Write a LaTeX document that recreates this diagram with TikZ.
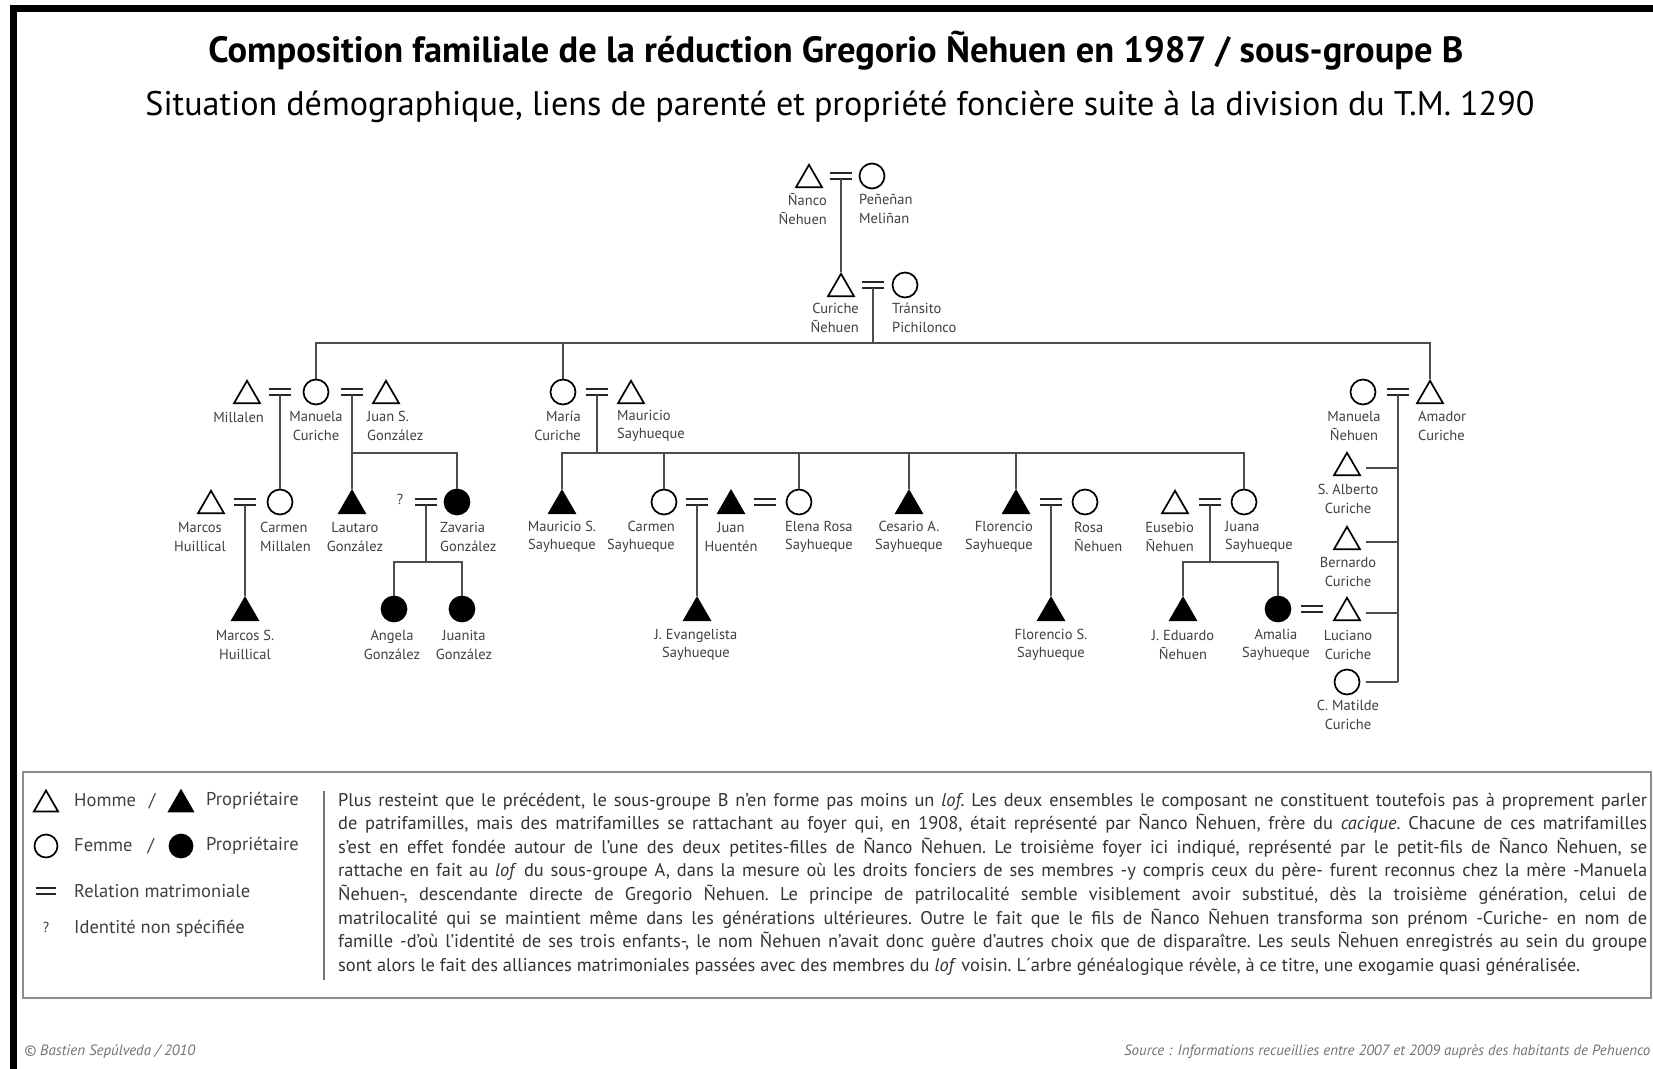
\documentclass[tikz,border=0pt]{standalone}
\usepackage{fontspec}
\usepackage{graphicx}
\setmainfont{PT Sans}
\usetikzlibrary{shapes.geometric}
\begin{document}
\begin{tikzpicture}[x=1pt,y=-1pt,
  man/.style={regular polygon, regular polygon sides=3, draw=black, line width=1.7pt, minimum size=30pt, inner sep=0pt, yshift=-3.75pt},
  woman/.style={circle, draw=black, line width=1.7pt, minimum size=25pt, inner sep=0pt},
  own/.style={fill=black},
  eqline/.style={draw=black!85, line width=2.4pt},
  eqs/.style={minimum width=22pt, minimum height=6pt, inner sep=0pt,
    append after command={(\tikzlastnode.north west) edge[eqline] (\tikzlastnode.north east)
      (\tikzlastnode.south west) edge[eqline] (\tikzlastnode.south east)}},
  conn/.style={draw=black!70, line width=1.6pt},
  lbl/.style={font=\fontsize{14.5}{18.5}\selectfont, text=black!75, inner sep=0pt},
  leg/.style={font=\fontsize{18.5}{22}\selectfont, text=black!75, inner sep=0pt, anchor=west},
  foot/.style={font=\fontsize{11}{13}\selectfont\itshape, text=black!55, inner sep=0pt}
]
\useasboundingbox (0,0) rectangle (1653,1068);
\fill[white] (0,0) rectangle (1653,1068);
\draw[line width=7pt] (13.5,1080) -- (13.5,8.5) -- (1670,8.5);

% titles
\node (title) at (836,51) {\resizebox{1255pt}{!}{\fontsize{30}{36}\selectfont\bfseries Composition familiale de la réduction Gregorio Ñehuen en 1987 / sous-groupe B}};
\node (subtitle) at (840,107) {\resizebox{1389pt}{!}{\fontsize{30}{36}\selectfont Situation démographique, liens de parenté et propriété foncière suite à la division du T.M. 1290}};

% bars
\coordinate (bar1) at (0,343);
\coordinate (bar2) at (0,453);
\coordinate (bar4) at (0,562);

% generation A
\node[man] (nanco) at (809,176) {};
\node[eqs] (eqA) at (841,176) {};
\node[woman] (penenan) at (872,176) {};
\node[lbl, align=right, anchor=east] (lnanco) at (827,209) {Ñanco\\Ñehuen};
\node[lbl, align=left, anchor=west] (lpenenan) at (859,209) {Peñeñan\\Meliñan};

% generation B
\node[man] (curiche) at (841,285) {};
\node[eqs] (eqB) at (873,285) {};
\node[woman] (transito) at (905,285) {};
\node[lbl, align=right, anchor=east] (lcuriche) at (859,318) {Curiche\\Ñehuen};
\node[lbl, align=left, anchor=west] (ltransito) at (892,318) {Tránsito\\Pichilonco};

% generation 2
\node[man] (millalen) at (247,392) {};
\node[eqs] (eqC) at (280,392) {};
\node[woman] (manuelaC) at (316,392) {};
\node[eqs] (eqD) at (352,392) {};
\node[man] (juanS) at (386,392) {};
\node[woman] (maria) at (563,392) {};
\node[eqs] (eqE) at (597,392) {};
\node[man] (mauricio) at (631,392) {};
\node[woman] (manuelaN) at (1363,392) {};
\node[eqs] (eqF) at (1398,392) {};
\node[man] (amador) at (1430,392) {};

\node[lbl, anchor=east] (lmillalen) at (264,417) {Millalen};
\node[lbl, align=center] (lmanuelaC) at (316,426) {Manuela\\Curiche};
\node[lbl, align=left, anchor=west] (ljuanS) at (367,426) {Juan S.\\González};
\node[lbl, align=right, anchor=east] (lmaria) at (581,426) {María\\Curiche};
\node[lbl, align=left, anchor=west] (lmauricio) at (617,426) {Mauricio\\Sayhueque};
\node[lbl, align=center] (lmanuelaN) at (1354,426) {Manuela\\Ñehuen};
\node[lbl, align=left, anchor=west] (lamador) at (1418,426) {Amador\\Curiche};

% generation 3
\node[man] (marcosH) at (211,502) {};
\node[eqs] (eqG) at (245,502) {};
\node[woman] (carmenM) at (280,502) {};
\node[man, own] (lautaro) at (352,502) {};
\node[lbl] (unknown) at (400,499) {?};
\node[eqs] (eqH) at (426,502) {};
\node[woman, own] (zavaria) at (457,502) {};
\node[man, own] (mauricioS) at (562,502) {};
\node[woman] (carmenS) at (664,502) {};
\node[eqs] (eqI) at (697,502) {};
\node[man, own] (juanH) at (731,502) {};
\node[eqs] (eqJ) at (765,502) {};
\node[woman] (elena) at (799,502) {};
\node[man, own] (cesario) at (909,502) {};
\node[man, own] (florencio) at (1016,502) {};
\node[eqs] (eqK) at (1051,502) {};
\node[woman] (rosa) at (1085,502) {};
\node[man] (eusebio) at (1175,502) {};
\node[eqs] (eqL) at (1210,502) {};
\node[woman] (juana) at (1244,502) {};

\node[lbl, align=center] (lmarcosH) at (200,537) {Marcos\\Huillical};
\node[lbl, align=left, anchor=west] (lcarmenM) at (260,537) {Carmen\\Millalen};
\node[lbl, align=center] (llautaro) at (355,537) {Lautaro\\González};
\node[lbl, align=left, anchor=west] (lzavaria) at (440,537) {Zavaria\\González};
\node[lbl, align=center] (lmauricioS) at (562,537) {Mauricio S.\\Sayhueque};
\node[lbl, align=right, anchor=east] (lcarmenS) at (675,537) {Carmen\\Sayhueque};
\node[lbl, align=center] (ljuanH) at (731,537) {Juan\\Huentén};
\node[lbl, align=left, anchor=west] (lelena) at (785,537) {Elena Rosa\\Sayhueque};
\node[lbl, align=center] (lcesario) at (909,537) {Cesario A.\\Sayhueque};
\node[lbl, align=right, anchor=east] (lflorencio) at (1033,537) {Florencio\\Sayhueque};
\node[lbl, align=left, anchor=west] (lrosa) at (1074,537) {Rosa\\Ñehuen};
\node[lbl, align=right, anchor=east] (leusebio) at (1194,537) {Eusebio\\Ñehuen};
\node[lbl, align=left, anchor=west] (ljuana) at (1225,537) {Juana\\Sayhueque};

% right column
\node[man] (alberto) at (1347,464) {};
\node[man] (bernardo) at (1347,538) {};
\node[man] (luciano) at (1347,609) {};
\node[woman] (matilde) at (1347,682) {};
\node[lbl, align=center] (lalberto) at (1348,499) {S. Alberto\\Curiche};
\node[lbl, align=center] (lbernardo) at (1348,572) {Bernardo\\Curiche};
\node[lbl, align=center] (lluciano) at (1348,645) {Luciano\\Curiche};
\node[lbl, align=center] (lmatilde) at (1348,715) {C. Matilde\\Curiche};

% generation 4
\node[man, own] (marcosS) at (245,609) {};
\node[woman, own] (angela) at (394,609) {};
\node[woman, own] (juanita) at (462,609) {};
\node[man, own] (jEvang) at (697,609) {};
\node[man, own] (florencioS) at (1051,609) {};
\node[man, own] (jEduardo) at (1183,609) {};
\node[woman, own] (amalia) at (1278,609) {};
\node[eqs] (eqM) at (1312,609) {};

\node[lbl, align=center] (lmarcosS) at (245,645) {Marcos S.\\Huillical};
\node[lbl, align=center] (langela) at (392,645) {Angela\\González};
\node[lbl, align=center] (ljuanita) at (464,645) {Juanita\\González};
\node[lbl, align=center] (ljevang) at (696,645) {J. Evangelista\\Sayhueque};
\node[lbl, align=center] (lflorencioS) at (1051,645) {Florencio S.\\Sayhueque};
\node[lbl, align=center] (ljeduardo) at (1183,645) {J. Eduardo\\Ñehuen};
\node[lbl, align=center] (lamalia) at (1276,645) {Amalia\\Sayhueque};

% connectors
\draw[conn] (eqA.south) -- (eqA |- curiche.north);
\draw[conn] (eqB.south) -- (eqB |- bar1);
\draw[conn] (manuelaC.north) -- (manuelaC.north |- bar1) -- (amador.north |- bar1) -- (amador.north);
\draw[conn] (maria.north) -- (maria.north |- bar1);

\draw[conn] (eqC.south) -- (eqC |- carmenM.north);
\draw[conn] (eqD.south) -- (eqD |- lautaro.north);
\draw[conn] (eqD |- bar2) -- (zavaria.north |- bar2) -- (zavaria.north);
\draw[conn] (eqG.south) -- (eqG |- marcosS.north);
\draw[conn] (eqH.south) -- (eqH |- bar4);
\draw[conn] (angela.north) -- (angela.north |- bar4) -- (juanita.north |- bar4) -- (juanita.north);

\draw[conn] (eqE.south) -- (eqE |- bar2);
\draw[conn] (mauricioS.north) -- (mauricioS.north |- bar2) -- (juana.north |- bar2) -- (juana.north);
\draw[conn] (carmenS.north) -- (carmenS.north |- bar2);
\draw[conn] (elena.north) -- (elena.north |- bar2);
\draw[conn] (cesario.north) -- (cesario.north |- bar2);
\draw[conn] (florencio.north) -- (florencio.north |- bar2);

\draw[conn] (eqI.south) -- (eqI |- jEvang.north);
\draw[conn] (eqK.south) -- (eqK |- florencioS.north);
\draw[conn] (eqL.south) -- (eqL |- bar4);
\draw[conn] (jEduardo.north) -- (jEduardo.north |- bar4) -- (amalia.north |- bar4) -- (amalia.north);

\draw[conn] (eqF.south) -- (eqF |- matilde.east);
\draw[conn] ([xshift=9pt]alberto.east) -- (eqF |- alberto.east);
\draw[conn] ([xshift=9pt]bernardo.east) -- (eqF |- bernardo.east);
\draw[conn] ([xshift=9pt]luciano.east) -- (eqF |- luciano.east);
\draw[conn] ([xshift=6pt]matilde.east) -- (eqF |- matilde.east);

% legend
\draw[draw=black!45, line width=2.5pt] (23,772) rectangle (1651,998);
\coordinate (divtop) at (324,791);
\coordinate (divbot) at (324,980);
\draw[draw=black!55, line width=1.5pt] (divtop) -- (divbot);

\node[man, minimum size=28pt, yshift=0.25pt] (legman) at (46,801) {};
\node[leg] (leghomme) at (74,801) {Homme\hspace{13pt}/};
\node[man, own, minimum size=28pt, yshift=0.25pt] (legmanown) at (181,801) {};
\node[leg] (legprop1) at (206,801) {Propriétaire};
\node[woman, minimum size=23pt] (legwoman) at (46,846) {};
\node[leg] (legfemme) at (74,846) {Femme\hspace{15pt}/};
\node[woman, own, minimum size=23pt] (legwomanown) at (181,846) {};
\node[leg] (legprop2) at (206,846) {Propriétaire};
\node[eqs, minimum width=20pt] (legeq) at (46,891) {};
\node[leg] (legrel) at (74,891) {Relation matrimoniale};
\node[lbl] (legq) at (46,927) {?};
\node[leg] (legid) at (74,929) {Identité non spécifiée};

\node[inner sep=0pt, anchor=west, text=black!80] (para) at (338,884) {\parbox{1309pt}{\fontsize{18.4}{23.6}\selectfont\frenchspacing\tolerance=10000\hyphenpenalty=10000
Plus resteint que le précédent, le sous-groupe B n'en forme pas moins un \textit{lof}. Les deux ensembles le composant ne constituent toutefois pas à proprement parler\linebreak
de patrifamilles, mais des matrifamilles se rattachant au foyer qui, en 1908, était représenté par Ñanco Ñehuen, frère du \textit{cacique}. Chacune de ces matrifamilles\linebreak
s'est en effet fondée autour de l'une des deux petites-filles de Ñanco Ñehuen. Le troisième foyer ici indiqué, représenté par le petit-fils de Ñanco Ñehuen, se\linebreak
rattache en fait au \textit{lof} du sous-groupe A, dans la mesure où les droits fonciers de ses membres -y compris ceux du père- furent reconnus chez la mère -Manuela\linebreak
Ñehuen-, descendante directe de Gregorio Ñehuen. Le principe de patrilocalité semble visiblement avoir substitué, dès la troisième génération, celui de\linebreak
matrilocalité qui se maintient même dans les générations ultérieures. Outre le fait que le fils de Ñanco Ñehuen transforma son prénom -Curiche- en nom de\linebreak
famille -d'où l'identité de ses trois enfants-, le nom Ñehuen n'avait donc guère d'autres choix que de disparaître. Les seuls Ñehuen enregistrés au sein du groupe\linebreak
sont alors le fait des alliances matrimoniales passées avec des membres du \textit{lof} voisin. L´arbre généalogique révèle, à ce titre, une exogamie quasi généralisée.}};

% footer
\node[foot, anchor=west] (credit) at (24,1052) {\resizebox{171pt}{!}{© Bastien Sepúlveda / 2010}};
\node[foot, anchor=west] (source) at (1124,1052) {\resizebox{526pt}{!}{Source : Informations recueillies entre 2007 et 2009 auprès des habitants de Pehuenco}};
\end{tikzpicture}
\end{document}
